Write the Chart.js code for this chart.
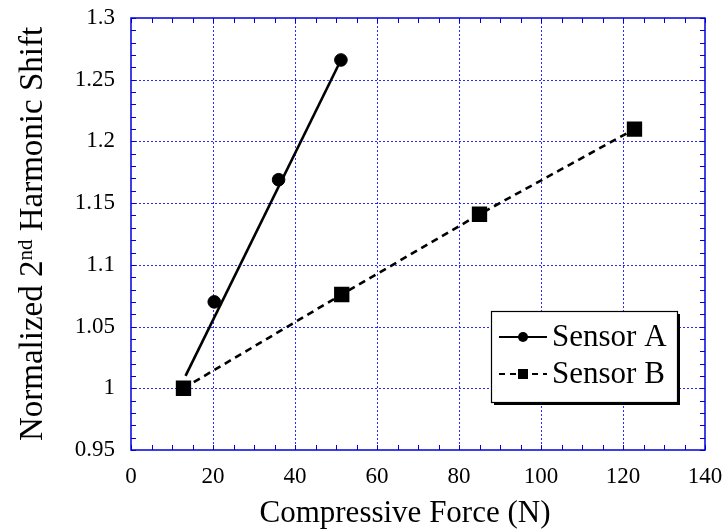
<!DOCTYPE html>
<html>
<head>
<meta charset="utf-8">
<script src="https://cdn.jsdelivr.net/npm/chart.js@4.4.1/dist/chart.umd.min.js"></script>
<style>
  html, body { margin: 0; padding: 0; background: #fff; }
  #wrap { width: 724px; height: 532px; }
</style>
</head>
<body>
<div id="wrap"><canvas id="myChart" width="724" height="532"></canvas></div>
<script>
// values
const forceA = [12.8, 20.3, 36.0, 51.2];
const shiftA = [1.000, 1.070, 1.169, 1.266];
// straight fit line through sensor A (end points)
const fitForceA = [13.3, 51.2];
const fitShiftA = [1.010, 1.266];
const forceB = [12.8, 51.4, 85.0, 122.8];
const shiftB = [1.000, 1.076, 1.141, 1.210];
const xTicks = [0, 20, 40, 60, 80, 100, 120, 140];
const yTicks = [0.95, 1, 1.05, 1.1, 1.15, 1.2, 1.25, 1.3];
const seriesNames = ['Sensor A', 'Sensor B'];
const xTitle = 'Compressive Force (N)';

const SERIF = "'Liberation Serif', 'Times New Roman', serif";
const GRID_BLUE = '#2a2aff';
const FRAME_BLUE = '#0000dd';

function pts(xs, ys) {
  return xs.map((x, i) => ({ x: x, y: ys[i] }));
}

function seg(ctx, x1, y1, x2, y2) {
  ctx.beginPath();
  ctx.moveTo(x1, y1);
  ctx.lineTo(x2, y2);
  ctx.stroke();
}

const frame = {
  id: 'frame',
  beforeDatasetsDraw(chart) {
    const { ctx, chartArea: a, scales: { x, y } } = chart;
    ctx.save();
    // dotted grid
    ctx.strokeStyle = GRID_BLUE;
    ctx.lineWidth = 1;
    ctx.setLineDash([2, 2]);
    xTicks.slice(1, -1).forEach(v => {
      const px = Math.round(x.getPixelForValue(v)) + 0.5;
      seg(ctx, px, a.top, px, a.bottom);
    });
    yTicks.slice(1, -1).forEach(v => {
      const py = Math.round(y.getPixelForValue(v)) + 0.5;
      seg(ctx, a.left, py, a.right, py);
    });
    ctx.setLineDash([]);
    // inside tick marks on all four sides
    ctx.strokeStyle = FRAME_BLUE;
    const tl = 5;
    for (let v = x.min; v <= x.max + 0.001; v += 5) {
      const px = Math.round(x.getPixelForValue(v)) + 0.5;
      seg(ctx, px, a.bottom, px, a.bottom - tl);
      seg(ctx, px, a.top, px, a.top + tl);
    }
    for (let k = 0; k <= 35; k++) {
      const py = Math.round(y.getPixelForValue(y.min + k * 0.01)) + 0.5;
      seg(ctx, a.left, py, a.left + tl, py);
      seg(ctx, a.right, py, a.right - tl, py);
    }
    ctx.lineWidth = 1.5;
    ctx.strokeRect(a.left, a.top, a.width, a.height);
    ctx.restore();
  },
  afterDraw(chart) {
    const { ctx, chartArea: a } = chart;
    ctx.save();
    ctx.fillStyle = '#000';
    // x title
    ctx.font = '31px ' + SERIF;
    ctx.textAlign = 'center';
    ctx.textBaseline = 'alphabetic';
    ctx.fillText(xTitle, 405, 522);
    // y title with superscript
    const big = '33px ' + SERIF, small = '21px ' + SERIF;
    const p1 = 'Normalized 2', p2 = 'nd', p3 = ' Harmonic Shift';
    ctx.font = big;
    const w1 = ctx.measureText(p1).width, w3 = ctx.measureText(p3).width;
    ctx.font = small;
    const w2 = ctx.measureText(p2).width;
    const total = w1 + w2 + w3;
    ctx.translate(42, (a.top + a.bottom) / 2);
    ctx.rotate(-Math.PI / 2);
    ctx.textAlign = 'left';
    let cx = -total / 2;
    ctx.font = big;
    ctx.fillText(p1, cx, 0);
    cx += w1;
    ctx.font = small;
    ctx.fillText(p2, cx, -10);
    cx += w2;
    ctx.font = big;
    ctx.fillText(p3, cx, 0);
    ctx.restore();

    // legend box with shadow
    ctx.save();
    const lx = 491, ly = 311, lw = 186, lh = 91;
    ctx.fillStyle = '#000';
    ctx.fillRect(lx + 3, ly + 3, lw, lh);
    ctx.fillStyle = '#fff';
    ctx.fillRect(lx, ly, lw, lh);
    ctx.strokeStyle = '#000';
    ctx.lineWidth = 1.2;
    ctx.strokeRect(lx + 0.5, ly + 0.5, lw, lh);
    const rows = [337, 374];
    ctx.lineWidth = 2;
    ctx.fillStyle = '#000';
    // Sensor A sample
    seg(ctx, 499, rows[0], 547, rows[0]);
    ctx.beginPath();
    ctx.arc(523, rows[0], 5, 0, Math.PI * 2);
    ctx.fill();
    // Sensor B sample
    ctx.setLineDash([6, 5]);
    seg(ctx, 499, rows[1], 547, rows[1]);
    ctx.setLineDash([]);
    ctx.fillRect(518, rows[1] - 5, 10, 10);
    ctx.font = '31px ' + SERIF;
    ctx.textBaseline = 'middle';
    ctx.textAlign = 'left';
    seriesNames.forEach((n, i) => ctx.fillText(n, 552, rows[i] + 1));
    ctx.restore();
  }
};

const tickFont = { family: SERIF, size: 23 };

new Chart(document.getElementById('myChart'), {
  type: 'scatter',
  data: {
    datasets: [
      {
        label: seriesNames[0] + ' fit',
        data: pts(fitForceA, fitShiftA),
        showLine: true,
        borderColor: '#000',
        borderWidth: 2.6,
        pointRadius: 0,
        order: 3
      },
      {
        label: seriesNames[0],
        data: pts(forceA, shiftA),
        showLine: false,
        pointStyle: 'circle',
        pointRadius: 6.3,
        backgroundColor: '#000',
        borderColor: '#000',
        order: 2
      },
      {
        label: seriesNames[1],
        data: pts(forceB, shiftB),
        showLine: true,
        borderColor: '#000',
        borderWidth: 2.6,
        borderDash: [7, 5],
        pointStyle: 'rect',
        pointRadius: 9,
        backgroundColor: '#000',
        order: 1
      }
    ]
  },
  options: {
    responsive: false,
    animation: false,
    devicePixelRatio: 1,
    layout: { padding: { left: 0, top: 18, right: 19, bottom: 0 } },
    plugins: { legend: { display: false }, tooltip: { enabled: false } },
    scales: {
      x: {
        type: 'linear',
        min: 0,
        max: 140,
        afterBuildTicks: s => { s.ticks = xTicks.map(v => ({ value: v })); },
        afterFit: s => { s.height = 82; s.paddingLeft = 0; s.paddingRight = 0; },
        grid: { display: false, drawTicks: false },
        border: { display: false },
        ticks: { font: tickFont, color: '#000', padding: 13, maxRotation: 0 }
      },
      y: {
        type: 'linear',
        min: 0.95,
        max: 1.3,
        afterBuildTicks: s => { s.ticks = yTicks.map(v => ({ value: v })); },
        afterFit: s => { s.width = 131; s.paddingTop = 0; s.paddingBottom = 0; },
        grid: { display: false, drawTicks: false },
        border: { display: false },
        ticks: {
          font: tickFont,
          color: '#000',
          padding: 16,
          callback: v => String(+(+v).toFixed(2))
        }
      }
    }
  },
  plugins: [frame]
});
</script>
</body>
</html>
